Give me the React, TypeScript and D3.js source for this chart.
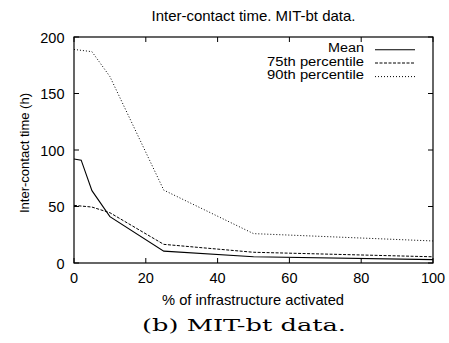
import React from "react";
import * as d3 from "d3";

const xPct = [0, 2, 5, 10, 25, 50, 100];
const meanVals = [92, 91, 64, 41, 10.5, 5.5, 3];
const xPct75 = [0, 5, 10, 25, 50, 100];
const p75Vals = [51, 49.5, 44.5, 16.5, 9.5, 5.5];
const xPct90 = [0, 5, 10, 25, 50, 100];
const p90Vals = [189, 187, 165, 64.5, 26, 19.5];
const xTicks = [0, 20, 40, 60, 80, 100];
const yTicks = [0, 50, 100, 150, 200];

const W = 449, H = 343;
const L = 74, R = 433, T = 37, B = 263;
const font = "'Liberation Sans', Arial, sans-serif";

export default function App() {
  const x = d3.scaleLinear().domain([0, 100]).range([L, R]);
  const y = d3.scaleLinear().domain([0, 200]).range([B, T]);
  const line = d3.line<[number, number]>().x(d => x(d[0])).y(d => y(d[1]));
  const series = [
    { name: "Mean", xs: xPct, ys: meanVals, dash: "none", w: 1.1, len: 36 },
    { name: "75th percentile", xs: xPct75, ys: p75Vals, dash: "3,1.5", w: 1, len: 97 },
    { name: "90th percentile", xs: xPct90, ys: p90Vals, dash: "1,2", w: 1, len: 97 },
  ];
  const legY = [49.7, 63, 76.6];
  return (
    <svg width={W} height={H} style={{ position: "absolute", left: 0, top: 0 }}>
      <rect width={W} height={H} fill="white" />
      <text x={151.5} y={21} fontFamily={font} fontSize={14.5} textLength={204} lengthAdjust="spacingAndGlyphs">Inter-contact time. MIT-bt data.</text>
      {xTicks.map(t => (
        <g key={"x" + t}>
          <line x1={x(t)} x2={x(t)} y1={B} y2={B - 5} stroke="black" />
          <line x1={x(t)} x2={x(t)} y1={T} y2={T + 5} stroke="black" />
          <text x={x(t)} y={B + 20} textAnchor="middle" fontFamily={font} fontSize={14.5}>{t}</text>
        </g>
      ))}
      {yTicks.map(t => (
        <g key={"y" + t}>
          <line x1={L} x2={L + 5} y1={y(t)} y2={y(t)} stroke="black" />
          <line x1={R} x2={R - 5} y1={y(t)} y2={y(t)} stroke="black" />
          <text x={L - 9.5} y={y(t) + 5.5} textAnchor="end" fontFamily={font} fontSize={14.5}>{t}</text>
        </g>
      ))}
      <rect x={L} y={T} width={R - L} height={B - T} fill="none" stroke="black" strokeWidth={1.2} />
      {series.map(s => (
        <path key={s.name} d={line(s.xs.map((v, i) => [v, s.ys[i]]) as [number, number][]) || ""}
          fill="none" stroke="black" strokeWidth={s.w} strokeDasharray={s.dash} />
      ))}
      {series.map((s, i) => (
        <g key={"l" + s.name}>
          <text x={364 - s.len} y={legY[i] + 2.5} fontFamily={font} fontSize={12.5} textLength={s.len} lengthAdjust="spacingAndGlyphs">{s.name}</text>
          <line x1={375} x2={415} y1={legY[i]} y2={legY[i]} stroke="black" strokeWidth={s.w} strokeDasharray={s.dash} />
        </g>
      ))}
      <text transform={`translate(29,153) rotate(-90)`} textAnchor="middle" fontFamily={font} fontSize={13.5} textLength={120} lengthAdjust="spacingAndGlyphs">Inter-contact time (h)</text>
      <text x={162} y={304.5} fontFamily={font} fontSize={14.5} textLength={182} lengthAdjust="spacingAndGlyphs">% of infrastructure activated</text>
      <text x={142} y={331} fontFamily="'DejaVu Serif', serif" fontSize={17} textLength={204} lengthAdjust="spacingAndGlyphs">(b) MIT-bt data.</text>
    </svg>
  );
}
